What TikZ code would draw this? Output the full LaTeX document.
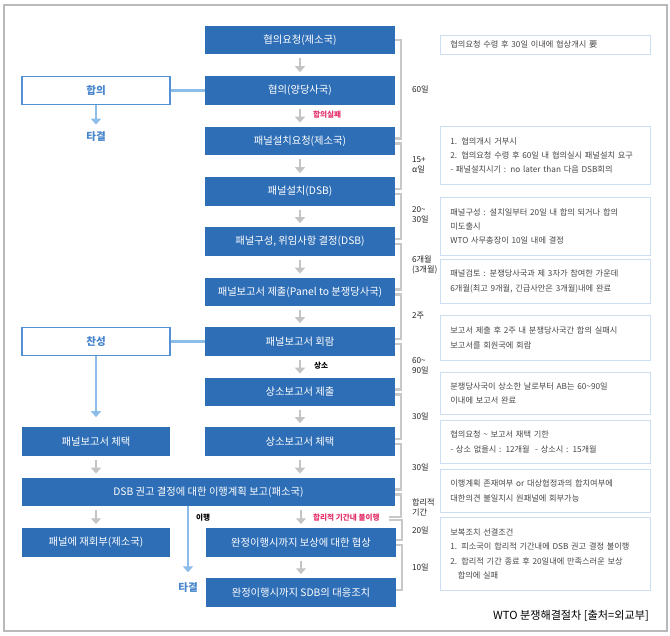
\documentclass[tikz,border=0pt]{standalone}
\usepackage{fontspec}
\setmainfont{Noto Sans CJK KR}
\usetikzlibrary{positioning,arrows.meta}
\definecolor{bleuf}{RGB}{46,110,182}
\definecolor{bleuc}{RGB}{140,188,233}
\definecolor{bleul}{RGB}{84,144,212}
\definecolor{bleut}{RGB}{70,132,204}
\definecolor{bleun}{RGB}{204,222,242}
\definecolor{grisf}{RGB}{196,196,196}
\definecolor{grisc}{RGB}{200,200,200}
\definecolor{grisb}{RGB}{185,185,185}
\definecolor{texte}{RGB}{70,70,70}
\definecolor{rougef}{RGB}{228,48,104}

\begin{document}
\begin{tikzpicture}[x=0.03cm, y=-0.03cm,
            bleu/.style={fill=bleuf, text=white, minimum width=5.7cm, minimum height=0.85cm, inner sep=0pt, font=\fontsize{8.8}{10}\selectfont},
            blanc/.style={draw=bleul, line width=0.9pt, fill=white, text=bleut, minimum width=4.44cm, minimum height=0.82cm, inner sep=0pt, font=\fontsize{9}{10}\selectfont\bfseries},
            note/.style={draw=bleun, line width=0.7pt, anchor=north west, text width=5.7cm, inner xsep=0.3cm, inner ysep=0.05cm, align=left, text=texte, font=\fontsize{7}{12}\selectfont},
            crochet/.style={draw=grisc, line width=1.8pt},
            gfl/.style={draw=grisf, line width=2.4pt, -{Triangle[width=8.5pt,length=5pt]}, shorten <=0.12cm, shorten >=0.12cm},
            bfl/.style={draw=bleuc, line width=2.2pt, -{Triangle[width=8.5pt,length=5pt]}},
            lien/.style={draw=bleuc, line width=2pt},
            duree/.style={anchor=west, align=left, text=black!85, font=\fontsize{7}{8.5}\selectfont},
            rouge/.style={anchor=west, text=rougef, font=\fontsize{6.5}{7}\selectfont\bfseries},
            noir/.style={anchor=west, text=black, font=\fontsize{6.5}{7}\selectfont\bfseries},
        ]
        \useasboundingbox (0,0) rectangle (670,635);
        \draw[grisb, line width=1.2pt] (4,5) rectangle (667,631);

        % colonne centrale
        \node[bleu] (b1) at (300,40) {협의요청(제소국)};
        \node[bleu] (b2) at (300,90.5) {협의(양당사국)};
        \node[bleu] (b3) at (300,141) {패널설치요청(제소국)};
        \node[bleu] (b4) at (300,191.5) {패널설치(DSB)};
        \node[bleu] (b5) at (300,241.5) {패널구성, 위임사항 결정(DSB)};
        \node[bleu] (b6) at (300,292) {패널보고서 제출(Panel to 분쟁당사국)};
        \node[bleu] (b7) at (300,341.5) {패널보고서 회람};
        \node[bleu] (b8) at (300,392) {상소보고서 제출};
        \node[bleu] (b9) at (300,441.5) {상소보고서 체택};
        \node[bleu, minimum width=11.19cm] (dsb) at (208.5,492) {DSB 권고 결정에 대한 이행계획 보고(패소국)};
        \node[bleu] (r1) at (301,542.5) {완정이행시까지 보상에 대한 협상};
        \node[bleu] (r2) at (301,592.5) {완정이행시까지 SDB의 대응조치};

        % colonne gauche
        \node[blanc] (hap) at (96,90.5) {합의};
        \node[text=bleut, font=\fontsize{9}{10}\selectfont\bfseries] (ta1) at (96,137) {타결};
        \node[blanc] (chan) at (96,341.5) {찬성};
        \node[bleu, minimum width=4.44cm] (chae) at (96,441.5) {패널보고서 체택};
        \node[bleu, minimum width=4.44cm] (jae) at (96,542.5) {패널에 재회부(제소국)};
        \node[text=bleut, font=\fontsize{9}{10}\selectfont\bfseries] (ta2) at (188,588) {타결};

        % fleches
        \foreach \a/\b in {b1/b2, b2/b3, b3/b4, b4/b5, b5/b6, b6/b7, b7/b8, b8/b9, r1/r2}
            \draw[gfl] (\a) -- (\b);
        \draw[gfl] (b9) -- (b9 |- dsb.north);
        \draw[gfl] (chae) -- (chae |- dsb.north);
        \draw[gfl] (dsb.south -| jae) -- (jae);
        \draw[gfl] (dsb.south -| r1) -- (r1);

        \draw[lien] (hap) -- (b2);
        \draw[lien] (chan) -- (b7);
        \draw[bfl, shorten >=0.1cm] (hap) -- (ta1);
        \draw[bfl, shorten >=0.3cm] (chan) -- (chae);
        \draw[bfl, shorten >=0.2cm] (dsb.south -| ta2) -- (ta2);

        \node[rouge] (echec) at (309,115) {합의실패};
        \node[noir] (appel) at (310,366) {상소};
        \node[noir] (exec) at (192,518) {이행};
        \node[rouge] (fail) at (309,518) {합리적 기간내 불이행};

        % delais
        \foreach \a/\b/\s/\y/\t in {b1/b3/0/89/60일, b3/b4/0.075/165/{15+\\α일},
            b4/b5/0.075/215/{20\textasciitilde\\30일}, b5/b6/0.075/265/{6개월\\(3개월)},
            b6/b7/0.075/316/2주, b7/b8/0.075/366/{60\textasciitilde\\90일},
            b8/b9/0.075/416/30일, b9/dsb/0.075/467/30일, r1/r2/0.075/567/10일} {
            \draw[crochet] ([yshift=-\s cm]\a.east) -- ++(0.18cm,0) |- ([yshift=0.075cm]\b.east);
            \node[duree] (d\a) at (408,\y) {\t};
        }
        \draw[crochet] ([yshift=-0.075cm]dsb.east) -- ++(0.18cm,0) |- ([xshift=0.15cm,yshift=0.03cm]fail.east);
        \draw[crochet] ([xshift=0.15cm,yshift=-0.06cm]fail.east) -| ([xshift=0.16cm,yshift=0.075cm]r1.east) -- ([yshift=0.075cm]r1.east);
        \node[duree] (dfail) at (408,507) {합리적\\기간};
        \node[duree] (dr1) at (408,530) {20일};

        % notes
        \node[note, minimum height=0.57cm] (n1) at (440,35) {협의요청 수령 후 30일 이내에 협상개시 要};
        \node[note, minimum height=1.74cm] (n2) at (440,126) {1. 협의개시 거부시\\2. 협의요청 수령 후 60일 내 협의실시 패널설치 요구\\- 패널설치시기 : no later than 다음 DSB회의};
        \node[note, minimum height=1.74cm] (n3) at (440,197) {패널구성 : 설치일부터 20일 내 합의 되거나 합의\\미도출시\\WTO 사무총장이 10일 내에 결정};
        \node[note, minimum height=1.32cm] (n4) at (440,259) {패널검토 : 분쟁당사국과 제 3자가 참여한 가운데\\6개월(최고 9개월, 긴급사안은 3개월)내에 완료};
        \node[note, minimum height=1.35cm] (n5) at (440,315) {보고서 제출 후 2주 내 분쟁당사국간 합의 실패시\\보고서를 회원국에 회람};
        \node[note, minimum height=1.26cm] (n6) at (440,372) {분쟁당사국이 상소한 날로부터 AB는 60\textasciitilde90일\\이내에 보고서 완료};
        \node[note, minimum height=1.29cm] (n7) at (440,420) {협의요청 \textasciitilde{} 보고서 채택 기한\\- 상소 없을시 : 12개월 \ - 상소시 : 15개월};
        \node[note, minimum height=1.29cm] (n8) at (440,469) {이행계획 존재여부 or 대상협정과의 합치여부에\\대한의견 불일치시 원패널에 회부가능};
        \node[note, minimum height=2.19cm] (n9) at (440,517) {보복조치 선결조건\\1. 피소국이 합리적 기간내에 DSB 권고 결정 불이행\\2. 합리적 기간 종료 후 20일내에 만족스러운 보상\\\hspace*{0.9em}합의에 실패};

        \node[anchor=east, font=\fontsize{9.5}{11}\selectfont] (titre) at (653,616) {WTO 분쟁해결절차 [출처=외교부]};
    \end{tikzpicture}
\end{document}
